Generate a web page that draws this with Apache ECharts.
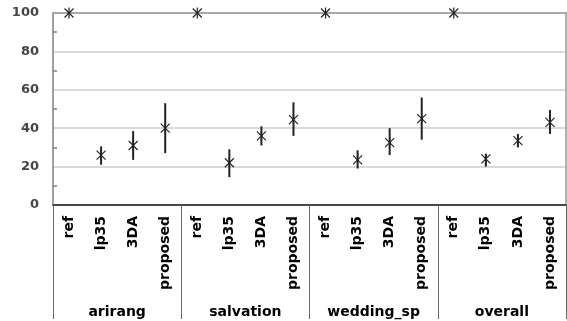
<!DOCTYPE html>
<html>
<head>
<meta charset="utf-8">
<script src="https://cdn.jsdelivr.net/npm/echarts@6/dist/echarts.min.js"></script>
<style>html,body{margin:0;padding:0;background:#fff;}#c{width:567px;height:321px;}</style>
</head>
<body>
<div id="c"></div>
<script>
var groups = ['arirang', 'salvation', 'wedding_sp', 'overall'];
var methods = ['ref', 'lp35', '3DA', 'proposed'];
var yTicks = [0, 20, 40, 60, 80, 100];

var meanArirang = [100, 26, 31, 40];
var lowArirang = [100, 21, 23.5, 27];
var highArirang = [100, 30.5, 38.5, 53];

var meanSalvation = [100, 22, 36, 44.5];
var lowSalvation = [100, 14.5, 31, 36];
var highSalvation = [100, 29, 41, 53.5];

var meanWedding = [100, 23.5, 32.5, 45];
var lowWedding = [100, 19, 26, 34];
var highWedding = [100, 28.5, 40, 56];

var meanOverall = [100, 24, 33.5, 43];
var lowOverall = [100, 20, 30, 37];
var highOverall = [100, 26.5, 37, 49.5];

var means = [meanArirang, meanSalvation, meanWedding, meanOverall];
var lows = [lowArirang, lowSalvation, lowWedding, lowOverall];
var highs = [highArirang, highSalvation, highWedding, highOverall];

var categories = [];
var points = [];
groups.forEach(function (g, gi) {
  methods.forEach(function (m, mi) {
    var idx = categories.length;
    categories.push(m);
    points.push([idx, means[gi][mi], lows[gi][mi], highs[gi][mi]]);
  });
});

var chart = echarts.init(document.getElementById('c'), null, {renderer: 'canvas'});
var FONT = 'DejaVu Sans';
chart.setOption({
  animation: false,
  backgroundColor: '#fff',
  grid: {left: 53, right: 1, top: 13, bottom: 116, containLabel: false},
  xAxis: [{
    type: 'category',
    data: categories,
    position: 'bottom',
    boundaryGap: true,
    axisLine: {show: true, lineStyle: {color: '#666', width: 1.5}},
    axisTick: {show: true, length: 114, interval: function (i) { return i % 4 === 0; }, lineStyle: {color: '#666', width: 1}},
    axisLabel: {rotate: 90, margin: 11, interval: 0, fontFamily: FONT, fontWeight: 'bold', fontSize: 14, color: '#000'},
    splitLine: {show: false}
  }, {
    type: 'category',
    data: groups,
    position: 'bottom',
    offset: 114,
    boundaryGap: true,
    axisLine: {show: true, lineStyle: {color: '#333', width: 1.5}},
    axisTick: {show: false},
    axisLabel: {inside: true, margin: 0, interval: 0, fontFamily: FONT, fontWeight: 'bold', fontSize: 14, color: '#000'},
    splitLine: {show: false}
  }, {
    type: 'category',
    data: categories,
    position: 'top',
    axisLine: {show: true, lineStyle: {color: '#999', width: 1.5}},
    axisTick: {show: false},
    axisLabel: {show: false},
    splitLine: {show: false}
  }],
  yAxis: [{
    type: 'value',
    min: yTicks[0],
    max: yTicks[yTicks.length - 1],
    interval: 20,
    axisLine: {show: true, lineStyle: {color: '#808080', width: 1.5}},
    axisTick: {show: false, inside: true},
    minorTick: {show: true, splitNumber: 2, length: 4, lineStyle: {color: '#808080', width: 1.5}},
    axisLabel: {margin: 14, fontFamily: FONT, fontWeight: 'bold', fontSize: 13, color: '#444'},
    splitLine: {show: true, lineStyle: {color: '#d9d9d9', width: 2}}
  }, {
    type: 'value',
    position: 'right',
    min: 0, max: 100,
    axisLine: {show: true, lineStyle: {color: '#999', width: 1.5}},
    axisTick: {show: false},
    axisLabel: {show: false},
    splitLine: {show: false}
  }],
  series: [{
    type: 'custom',
    xAxisIndex: 0,
    yAxisIndex: 0,
    clip: false,
    data: points,
    renderItem: function (params, api) {
      var c = api.coord([api.value(0), api.value(1)]);
      var lo = api.coord([api.value(0), api.value(2)]);
      var hi = api.coord([api.value(0), api.value(3)]);
      var children = [];
      if (Math.abs(lo[1] - hi[1]) > 0.5) {
        children.push({type: 'line', shape: {x1: c[0], y1: lo[1], x2: c[0], y2: hi[1]}, style: {stroke: '#222', lineWidth: 2}});
      }
      var w = 4.5, h = 4.5, v = 5.5;
      children.push({type: 'line', shape: {x1: c[0] - w, y1: c[1] - h, x2: c[0] + w, y2: c[1] + h}, style: {stroke: '#222', lineWidth: 1.2}});
      children.push({type: 'line', shape: {x1: c[0] - w, y1: c[1] + h, x2: c[0] + w, y2: c[1] - h}, style: {stroke: '#222', lineWidth: 1.2}});
      children.push({type: 'line', shape: {x1: c[0], y1: c[1] - v, x2: c[0], y2: c[1] + v}, style: {stroke: '#222', lineWidth: 1.2}});
      return {type: 'group', children: children};
    }
  }]
});
</script>
</body>
</html>
